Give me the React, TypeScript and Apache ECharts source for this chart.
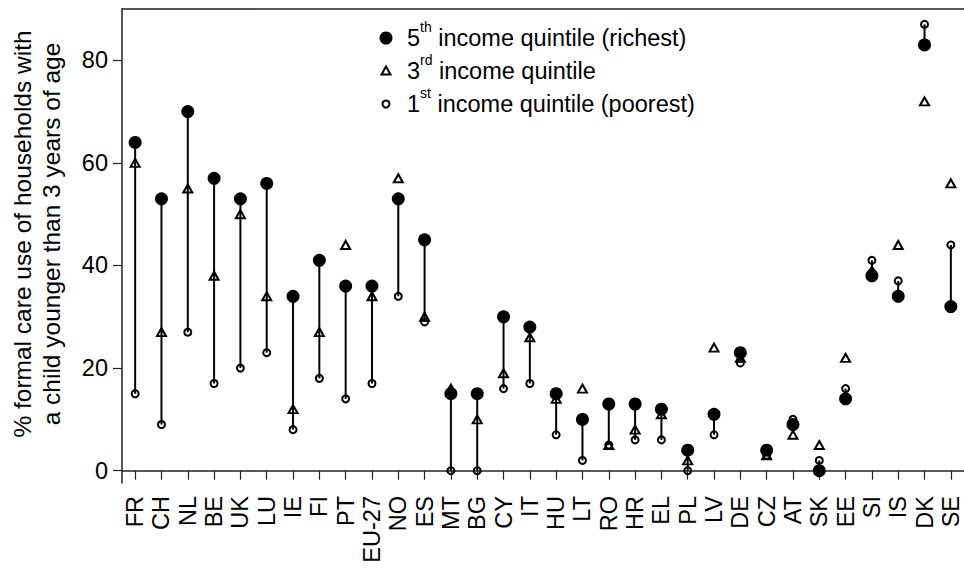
import React, { useEffect, useRef } from "react";
import * as echarts from "echarts";

const categories = ["FR","CH","NL","BE","UK","LU","IE","FI","PT","EU-27","NO","ES","MT","BG","CY","IT","HU","LT","RO","HR","EL","PL","LV","DE","CZ","AT","SK","EE","SI","IS","DK","SE"];
const q5 = [64,53,70,57,53,56,34,41,36,36,53,45,15,15,30,28,15,10,13,13,12,4,11,23,4,9,0,14,38,34,83,32];
const q3 = [60,27,55,38,50,34,12,27,44,34,57,30,16,10,19,26,14,16,5,8,11,2,24,22,3,7,5,22,39,44,72,56];
const q1 = [15,9,27,17,20,23,8,18,14,17,34,29,0,0,16,17,7,2,5,6,6,0,7,21,3,10,2,16,41,37,87,44];
const yTicks = [0, 20, 40, 60, 80];
const legendLabels = [
  ["5", "th", " income quintile (richest)"],
  ["3", "rd", " income quintile"],
  ["1", "st", " income quintile (poorest)"],
];
const yTitle = "% formal care use of households with\na child younger than 3 years of age";

const FONT = "'Liberation Sans', Arial, sans-serif";

export default function App() {
  const ref = useRef<HTMLDivElement>(null);
  useEffect(() => {
    if (!ref.current) return;
    const chart = echarts.init(ref.current, null, { renderer: "svg" });
    const legX = 386;
    const legY = [38, 71, 104];
    const rich = {
      m: { fontSize: 23.5, fontFamily: FONT, color: "#000", lineHeight: 36 },
      s: { fontSize: 14, fontFamily: FONT, color: "#000", lineHeight: 14, verticalAlign: "top" },
    };
    const graphic: any[] = [
      { type: "circle", shape: { cx: legX, cy: legY[0], r: 6.5 }, style: { fill: "#000" } },
      { type: "polygon", shape: { points: [[legX, legY[1] - 4.5], [legX - 4.5, legY[1] + 3.5], [legX + 4.5, legY[1] + 3.5]] }, style: { fill: "none", stroke: "#000", lineWidth: 2 } },
      { type: "circle", shape: { cx: legX, cy: legY[2], r: 3.5 }, style: { fill: "none", stroke: "#000", lineWidth: 2 } },
      {
        type: "text",
        x: 37,
        y: 234,
        rotation: Math.PI / 2,
        style: {
          text: yTitle,
          fontSize: 24.5,
          lineHeight: 29,
          fontFamily: FONT,
          fill: "#000",
          align: "center",
          verticalAlign: "middle",
        },
      },
    ];
    legendLabels.forEach((l, i) => {
      graphic.push({
        type: "text",
        x: 407,
        y: legY[i],
        style: {
          text: `{m|${l[0]}}{s|${l[1]}}{m|${l[2]}}`,
          rich,
          verticalAlign: "middle",
          align: "left",
        },
      });
    });

    chart.setOption({
      animation: false,
      backgroundColor: "#fff",
      grid: { left: 122, right: 0, top: 9, bottom: 85, containLabel: false },
      xAxis: [
        {
          type: "category",
          data: categories,
          boundaryGap: true,
          axisLine: { show: true, lineStyle: { color: "#222", width: 1.5 } },
          axisTick: { show: true, alignWithLabel: true, length: 9, lineStyle: { color: "#222", width: 1.2 } },
          axisLabel: { rotate: 90, fontSize: 23.5, fontFamily: FONT, color: "#000", margin: 13, interval: 0 },
          splitLine: { show: false },
        },
        {
          type: "value",
          position: "top",
          min: 0,
          max: 1,
          axisLine: { show: true, lineStyle: { color: "#222", width: 1.5 } },
          axisTick: { show: false },
          axisLabel: { show: false },
          splitLine: { show: false },
        },
      ],
      yAxis: {
        type: "value",
        min: -2.4,
        max: 90,
        axisLine: { show: true, lineStyle: { color: "#222", width: 1.5 } },
        axisTick: { show: true, length: 9, customValues: yTicks, lineStyle: { color: "#222", width: 1.2 } },
        axisLabel: { fontSize: 23.5, fontFamily: FONT, color: "#000", margin: 14, customValues: yTicks },
        splitLine: { show: false },
      },
      graphic,
      series: [
        {
          name: "range",
          type: "custom",
          xAxisIndex: 0,
          renderItem: (params: any, api: any) => {
            const i = api.value(0);
            const a = api.coord([i, api.value(1)]);
            const b = api.coord([i, api.value(2)]);
            return {
              type: "line",
              shape: { x1: a[0], y1: a[1], x2: b[0], y2: b[1] },
              style: { stroke: "#000", lineWidth: 2 },
            };
          },
          encode: { x: 0, y: [1, 2] },
          data: categories.map((c, i) => [i, q1[i], q5[i]]),
          z: 1,
        },
        {
          name: "1st income quintile (poorest)",
          type: "scatter",
          xAxisIndex: 0,
          data: q1,
          symbol: "circle",
          symbolSize: 7,
          itemStyle: { color: "rgba(0,0,0,0)", borderColor: "#000", borderWidth: 2, opacity: 1 },
          z: 2,
        },
        {
          name: "3rd income quintile",
          type: "scatter",
          xAxisIndex: 0,
          data: q3,
          symbol: "triangle",
          symbolSize: [9, 8],
          itemStyle: { color: "rgba(0,0,0,0)", borderColor: "#000", borderWidth: 2, opacity: 1 },
          z: 3,
        },
        {
          name: "5th income quintile (richest)",
          type: "scatter",
          xAxisIndex: 0,
          data: q5,
          symbol: "circle",
          symbolSize: 13,
          itemStyle: { color: "#000", opacity: 1 },
          z: 4,
        },
      ],
    });
    return () => chart.dispose();
  }, []);
  return <div ref={ref} style={{ position: "fixed", left: 0, top: 0, width: 964, height: 568 }} />;
}
